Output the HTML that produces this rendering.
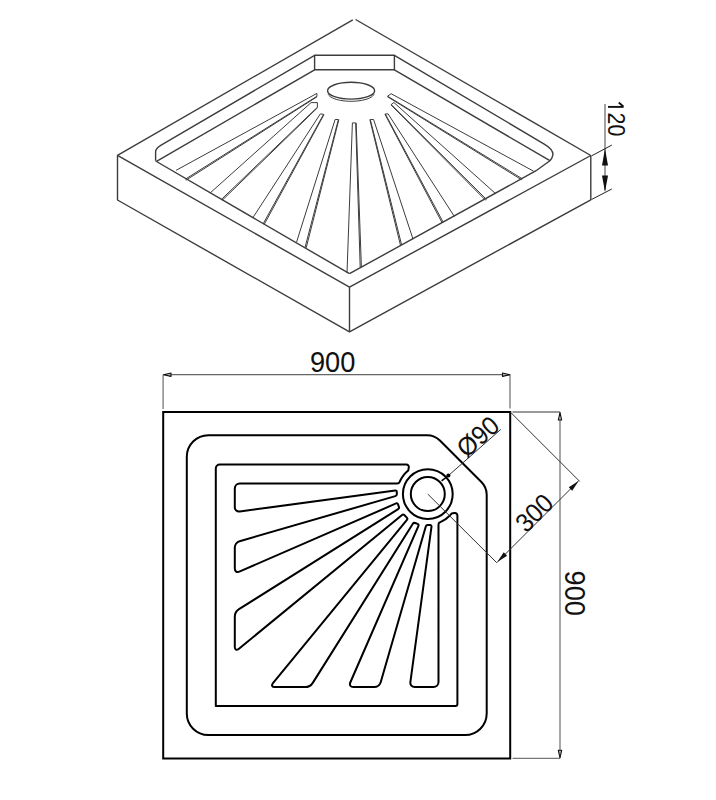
<!DOCTYPE html>
<html><head><meta charset="utf-8"><style>
html,body{margin:0;padding:0;background:#fff;}
svg{display:block;font-family:"Liberation Sans",sans-serif;}
</style></head><body>
<svg width="716" height="800" viewBox="0 0 716 800">
<rect width="716" height="800" fill="#fff"/>
<path d="M117.5 155.3 L352.8 19.8" fill="none" stroke="#3c3c3c" stroke-width="1.4" stroke-linejoin="round"/>
<path d="M355.6 19.5 L590.8 155.5" fill="none" stroke="#3c3c3c" stroke-width="1.4" stroke-linejoin="round"/>
<path d="M117.5 155.3 L349.5 287.2 L590.8 155.5" fill="none" stroke="#3c3c3c" stroke-width="1.4" stroke-linejoin="round"/>
<path d="M117.5 155.3 L117.5 200 L349.5 331.8 L590.8 199.8 L590.8 155.5" fill="none" stroke="#3c3c3c" stroke-width="1.4" stroke-linejoin="round"/>
<path d="M349.5 287.2 L349.5 331.8" fill="none" stroke="#3c3c3c" stroke-width="1.4" stroke-linejoin="round"/>
<path d="M314.6 55.3 L394.4 55.3 L394.4 69.8 L314.6 69.8Z" fill="none" stroke="#3c3c3c" stroke-width="1.4" stroke-linejoin="round"/>
<path d="M314.6 55.3 L160.7 145.4 Q155.6 148.4 155.6 152 L155.6 160.8" fill="none" stroke="#3c3c3c" stroke-width="1.4"/>
<path d="M314.6 69.8 L156.5 161.4" fill="none" stroke="#3c3c3c" stroke-width="1.4" stroke-linejoin="round"/>
<path d="M155.6 161 L349.5 273.7" fill="none" stroke="#3c3c3c" stroke-width="1.4" stroke-linejoin="round"/>
<path d="M394.4 55.3 L543.8 143.8 Q553 149 553 154.6 Q552 159 549.9 160.7 L536.1 170.7 L349.5 273.7" fill="none" stroke="#3c3c3c" stroke-width="1.4"/>
<path d="M394.4 69.8 L549.9 160.7" fill="none" stroke="#3c3c3c" stroke-width="1.4" stroke-linejoin="round"/>
<ellipse cx="351.1" cy="90.7" rx="23.5" ry="8.4" fill="none" stroke="#3c3c3c" stroke-width="1.4"/>
<path d="M374.05 94.36 L373.42 95.31 L372.49 96.23 L371.28 97.1 L369.79 97.92 L368.05 98.66 L366.08 99.33 L363.9 99.92 L361.56 100.41 L359.07 100.79 L356.47 101.07 L353.8 101.24 L351.1 101.3 L348.4 101.24 L345.73 101.07 L343.13 100.79 L340.64 100.41 L338.3 99.92 L336.12 99.33 L334.15 98.66 L332.41 97.92 L330.92 97.1 L329.71 96.23 L328.78 95.31 L328.15 94.36" fill="none" stroke="#3c3c3c" stroke-width="1.0" stroke-linejoin="round"/>
<path d="M176.1 170.3 L316.9 93.4 L316.9 96.3 L185.3 179.2" fill="none" stroke="#3c3c3c" stroke-width="1.0" stroke-linejoin="round"/>
<path d="M317.16 96.71 L185.94 180.22" fill="none" stroke="#3c3c3c" stroke-width="1.0" stroke-linejoin="round"/>
<path d="M210 193.1 L311.1 102.6 L317.4 102.6 L317.4 107.2 L221.2 199.6" fill="none" stroke="#3c3c3c" stroke-width="1.0" stroke-linejoin="round"/>
<path d="M317.73 107.55 L222.03 200.47" fill="none" stroke="#3c3c3c" stroke-width="1.0" stroke-linejoin="round"/>
<path d="M253.4 216.9 L320.3 113.9 L323.6 114.3 L263.1 223.9" fill="none" stroke="#3c3c3c" stroke-width="1.0" stroke-linejoin="round"/>
<path d="M324.02 114.53 L264.15 224.48" fill="none" stroke="#3c3c3c" stroke-width="1.0" stroke-linejoin="round"/>
<path d="M296.6 242 L335.1 119.5 L338.4 119.5 L305 247.6" fill="none" stroke="#3c3c3c" stroke-width="1.0" stroke-linejoin="round"/>
<path d="M338.86 119.62 L306.16 247.9" fill="none" stroke="#3c3c3c" stroke-width="1.0" stroke-linejoin="round"/>
<path d="M347 273 L352.4 122.9 L355.7 122.9 L360.2 267.4" fill="none" stroke="#3c3c3c" stroke-width="1.0" stroke-linejoin="round"/>
<path d="M356.18 122.89 L361.4 267.36" fill="none" stroke="#3c3c3c" stroke-width="1.0" stroke-linejoin="round"/>
<path d="M413 239.1 L373.6 119.5 L370.3 119.5 L401.6 244.8" fill="none" stroke="#3c3c3c" stroke-width="1.0" stroke-linejoin="round"/>
<path d="M369.83 119.62 L400.44 245.09" fill="none" stroke="#3c3c3c" stroke-width="1.0" stroke-linejoin="round"/>
<path d="M454.4 216.5 L388.1 113.9 L385.3 113.9 L443.1 222.1" fill="none" stroke="#3c3c3c" stroke-width="1.0" stroke-linejoin="round"/>
<path d="M384.88 114.13 L442.04 222.67" fill="none" stroke="#3c3c3c" stroke-width="1.0" stroke-linejoin="round"/>
<path d="M495.9 193.9 L393.9 102.5 L391.2 104.5 L486.5 199.5" fill="none" stroke="#3c3c3c" stroke-width="1.0" stroke-linejoin="round"/>
<path d="M390.86 104.84 L485.65 200.35" fill="none" stroke="#3c3c3c" stroke-width="1.0" stroke-linejoin="round"/>
<path d="M533.6 171.2 L391.1 93.7 L387.6 96.2 L522.3 178.8" fill="none" stroke="#3c3c3c" stroke-width="1.0" stroke-linejoin="round"/>
<path d="M387.35 96.61 L521.67 179.82" fill="none" stroke="#3c3c3c" stroke-width="1.0" stroke-linejoin="round"/>
<rect x="163.2" y="412" width="347" height="346.5" fill="none" stroke="#000" stroke-width="2.0"/>
<path d="M186.8 456.7 C186.8 444.83 196.43 435.2 208.3 435.2 L427.1 435.2 C431.24 435.2 436.97 437.57 439.9 440.5 L481.4 482 C484.33 484.93 486.7 490.66 486.7 494.8 L486.7 713.6 C486.7 725.47 477.07 735.1 465.2 735.1 L208.3 735.1 C196.43 735.1 186.8 725.47 186.8 713.6 Z" fill="none" stroke="#000" stroke-width="2.0"/>
<path d="M215.8 468.5 C215.8 466.29 217.59 464.5 219.8 464.5 L406.3 464.5 C407.96 464.5 409.08 465.82 408.8 467.44 L408.3 470.38 L406.79 471.72 L405.36 473.15 L404.03 474.67 L402.8 476.28 L401.68 477.97 L400.68 479.72 L399.79 481.54 L399.41 482.47 C399.19 482.99 398.13 483.41 397.02 483.41 L239.8 483.4 C237.04 483.4 234.8 485.64 234.8 488.4 L234.8 507.2 C234.8 509.96 237.02 511.9 239.75 511.53 L395.31 490.4 C396.13 490.29 396.8 490.87 396.8 491.7 L396.8 494.2 C396.8 495.03 396.15 495.89 395.36 496.12 L239.6 541.21 C236.95 541.98 234.8 544.84 234.8 547.6 L234.8 568.6 C234.8 571.36 236.85 572.71 239.39 571.61 L396.12 503.45 C396.88 503.12 397.72 503.48 398 504.26 L398.9 506.84 C399.18 507.62 398.83 508.61 398.13 509.05 L239.03 609.14 C236.69 610.61 234.8 614.04 234.8 616.8 L234.8 647.1 C234.8 649.86 236.53 650.68 238.67 648.93 L402.04 514.95 C402.68 514.43 403.67 514.47 404.26 515.06 L406.84 517.64 C407.43 518.23 407.47 519.22 406.95 519.86 L272.97 683.23 C271.22 685.37 272.04 687.1 274.8 687.1 L305.1 687.1 C307.86 687.1 311.29 685.21 312.76 682.87 L412.85 523.77 C413.29 523.07 414.28 522.72 415.06 523 L417.64 523.9 C418.42 524.18 418.78 525.02 418.45 525.78 L350.29 682.51 C349.19 685.05 350.54 687.1 353.3 687.1 L374.3 687.1 C377.06 687.1 379.92 684.95 380.69 682.3 L425.78 526.54 C426.01 525.75 426.87 525.1 427.7 525.1 L430.2 525.1 C431.03 525.1 431.61 525.77 431.5 526.59 L410.37 682.15 C410 684.88 411.94 687.1 414.7 687.1 L433.5 687.1 C436.26 687.1 438.5 684.86 438.5 682.1 L438.49 524.88 C438.49 523.77 438.91 522.71 439.43 522.49 L440.36 522.11 L442.18 521.22 L443.93 520.22 L445.62 519.1 L447.23 517.87 L448.75 516.54 L450.18 515.11 L451.52 513.6 L454.46 513.1 C456.08 512.82 457.4 513.94 457.4 515.6 L457.4 704.1 C457.4 705.2 456.5 706.1 455.4 706.1 L215.8 706.1 Z" fill="none" stroke="#000" stroke-width="2.0" stroke-linejoin="round"/>
<circle cx="427.8" cy="494.1" r="17" fill="none" stroke="#000" stroke-width="2.0"/>
<circle cx="427.8" cy="494.1" r="24.9" fill="none" stroke="#000" stroke-width="2.0"/>
<line x1="163" y1="374.7" x2="510" y2="374.7" stroke="#666" stroke-width="1.2"/>
<line x1="163.1" y1="374.7" x2="163.1" y2="409" stroke="#777" stroke-width="1.3"/>
<line x1="510" y1="374.7" x2="510" y2="408.5" stroke="#777" stroke-width="1.3"/>
<path d="M163.6 374.7 L171 373 L171 376.4Z" fill="#bbb" stroke="#111" stroke-width="1.1" stroke-linejoin="round"/>
<path d="M509.9 374.7 L502.5 373 L502.5 376.4Z" fill="#bbb" stroke="#111" stroke-width="1.1" stroke-linejoin="round"/>
<text transform="translate(332.6 371.8) scale(1,1.07)" font-size="27.2" text-anchor="middle" fill="#111">900</text>
<line x1="512.5" y1="412" x2="560" y2="412" stroke="#777" stroke-width="1.3"/>
<line x1="512.5" y1="758.4" x2="560" y2="758.4" stroke="#777" stroke-width="1.3"/>
<line x1="560" y1="412.1" x2="560" y2="758.2" stroke="#777" stroke-width="1.3"/>
<path d="M560 412.7 L558.3 420 L561.7 420Z" fill="#bbb" stroke="#111" stroke-width="1.1" stroke-linejoin="round"/>
<path d="M560 757.6 L558.3 750.3 L561.7 750.3Z" fill="#bbb" stroke="#111" stroke-width="1.1" stroke-linejoin="round"/>
<text transform="translate(564.6 593.2) rotate(90) scale(1,1.07)" font-size="27.2" text-anchor="middle" fill="#111">900</text>
<line x1="510.4" y1="412.1" x2="579.7" y2="481.4" stroke="#333" stroke-width="1"/>
<line x1="427.8" y1="494.1" x2="496.8" y2="562.8" stroke="#333" stroke-width="1"/>
<line x1="578.6" y1="480.9" x2="497.3" y2="562.1" stroke="#333" stroke-width="1"/>
<path d="M578.6 480.9 L572.17 490.73 L568.77 487.33 Z" fill="#111"/>
<path d="M497.3 562.1 L503.73 552.27 L507.13 555.67 Z" fill="#111"/>
<text transform="translate(540.6 519.2) rotate(-45) scale(1,1.07)" font-size="24.5" text-anchor="middle" fill="#111">300</text>
<line x1="448.4" y1="475.6" x2="500.8" y2="429.4" stroke="#333" stroke-width="1"/>
<circle cx="448.4" cy="475.6" r="2" fill="#000"/>
<line x1="448.4" y1="475.6" x2="441.6" y2="480.8" stroke="#000" stroke-width="1.5"/>
<text transform="translate(483.8 443.5) rotate(-41.3) scale(1,1.07)" font-size="24.5" text-anchor="middle" fill="#111">&#216;90</text>
<line x1="605" y1="104" x2="605" y2="190.5" stroke="#444" stroke-width="1"/>
<line x1="591.5" y1="155.9" x2="611.8" y2="145.1" stroke="#222" stroke-width="1"/>
<line x1="591.5" y1="199.5" x2="611.8" y2="189" stroke="#222" stroke-width="1"/>
<path d="M605 148.6 L602 165.5 L608 165.5Z" fill="#111"/>
<path d="M605 192 L602 175.4 L608 175.4Z" fill="#111"/>
<text transform="translate(607.8 118.5) rotate(90) scale(1,1.09)" x="-5.95" font-size="21.4" fill="#111">20</text>
<line x1="608" y1="106.9" x2="623.6" y2="106.9" stroke="#111" stroke-width="1.9"/>
<line x1="623.3" y1="106.5" x2="618.8" y2="102.5" stroke="#111" stroke-width="1.9"/>
</svg>
</body></html>
